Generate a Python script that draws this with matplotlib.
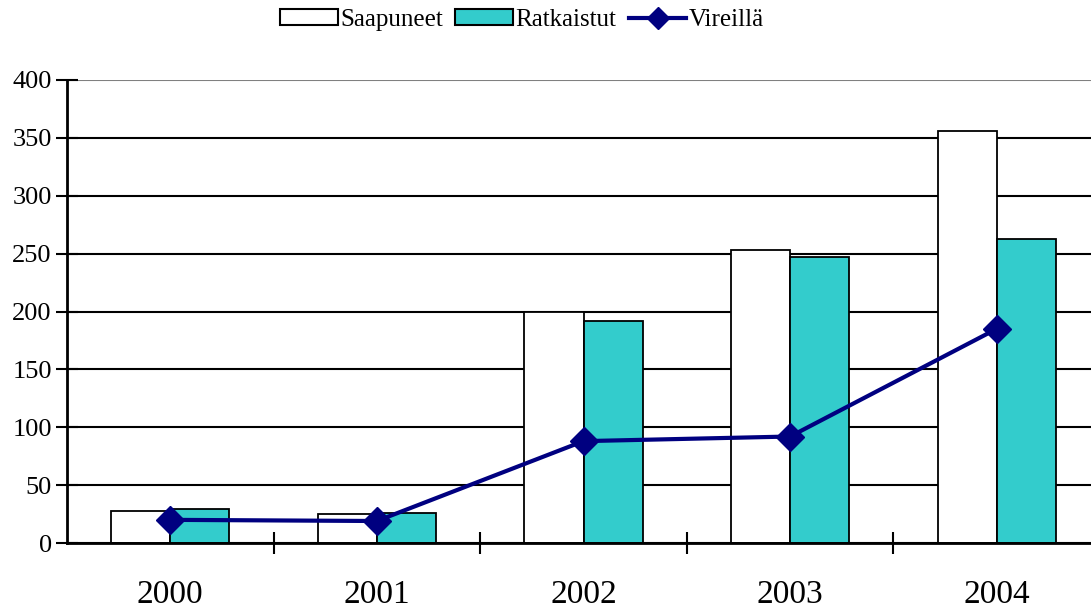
import matplotlib
matplotlib.use("Agg")
import matplotlib.pyplot as plt
import numpy as np
from matplotlib.lines import Line2D
from matplotlib.patches import Patch

years = ["2000", "2001", "2002", "2003", "2004"]
saapuneet = [28, 25, 200, 253, 356]
ratkaistut = [29, 26, 192, 247, 263]
vireilla = [20, 19, 88, 92, 185]
yticks = [0, 50, 100, 150, 200, 250, 300, 350, 400]

plt.rcParams['font.family'] = ['Liberation Serif', 'DejaVu Serif']

fig = plt.figure(figsize=(10.91, 6.08), dpi=100)
ax = fig.add_axes([67/1091, 65/608, 1033/1091, 463/608])

x = np.arange(len(years))
w = 0.286
ax.bar(x - w/2, saapuneet, width=w, color="white", edgecolor="black", linewidth=1.3, zorder=3)
ax.bar(x + w/2, ratkaistut, width=w, color="#33CCCC", edgecolor="black", linewidth=1.3, zorder=3)
ax.plot(x, vireilla, color="#000080", linewidth=3, marker="D", markersize=14, zorder=4)

ax.set_xlim(-0.5, len(years) - 0.5)
ax.set_ylim(0, 400)
ax.set_yticks(yticks)
ax.set_yticklabels([str(v) for v in yticks], fontsize=19)
ax.yaxis.grid(True, color="black", linewidth=1.5, zorder=0)
ax.get_ygridlines()[-1].set_color("#808080")
ax.set_axisbelow(True)
ax.tick_params(axis="y", direction="inout", length=16, width=1.5, pad=3)

ax.set_xticks(x)
ax.set_xticklabels(years, fontsize=24)
ax.set_xticks(np.arange(0.5, len(years) - 0.5 + 0.01, 1.0), minor=True)
ax.tick_params(axis="x", which="major", length=0, pad=26)
ax.tick_params(axis="x", which="minor", direction="inout", length=16, width=1.5)

for s in ["top", "right"]:
    ax.spines[s].set_visible(False)
for s in ["left", "bottom"]:
    ax.spines[s].set_linewidth(2)
    ax.spines[s].set_zorder(5)

handles = [
    Patch(facecolor="white", edgecolor="black", linewidth=1.5, label="Saapuneet"),
    Patch(facecolor="#33CCCC", edgecolor="black", linewidth=1.5, label="Ratkaistut"),
    Line2D([0], [0], color="#000080", linewidth=3, marker="D", markersize=11, label="Vireillä"),
]
fig.legend(handles=handles, loc="center", bbox_to_anchor=(522/1091, 1 - 20/608), ncol=3,
           frameon=False, fontsize=18, handlelength=2.3, handleheight=0.6,
           handletextpad=0.1, columnspacing=0.5)

fig.savefig("out.png", dpi=100)
